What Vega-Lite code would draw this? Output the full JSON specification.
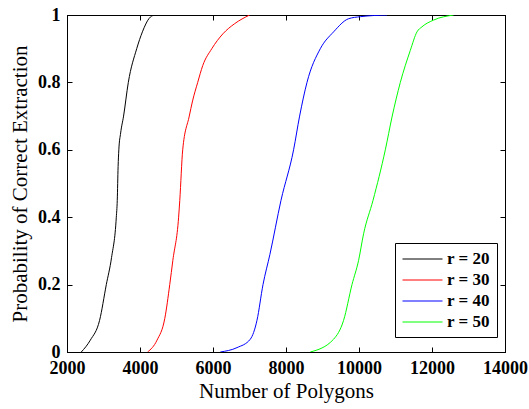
{
  "$schema": "https://vega.github.io/schema/vega-lite/v6.json",
  "width": 438,
  "height": 337,
  "autosize": "none",
  "padding": {"left": 67, "top": 15, "right": 24, "bottom": 57},
  "background": "white",
  "config": {
    "view": {"stroke": "black", "strokeWidth": 1},
    "font": "Liberation Serif"
  },
  "data": {
    "values": [
      {"n": 2392, "p": 0, "r": "r = 20"},
      {"n": 2638, "p": 0.035, "r": "r = 20"},
      {"n": 2893, "p": 0.094, "r": "r = 20"},
      {"n": 3077, "p": 0.2, "r": "r = 20"},
      {"n": 3220, "p": 0.28, "r": "r = 20"},
      {"n": 3351, "p": 0.4, "r": "r = 20"},
      {"n": 3377, "p": 0.45, "r": "r = 20"},
      {"n": 3400, "p": 0.55, "r": "r = 20"},
      {"n": 3420, "p": 0.6, "r": "r = 20"},
      {"n": 3470, "p": 0.65, "r": "r = 20"},
      {"n": 3550, "p": 0.7, "r": "r = 20"},
      {"n": 3680, "p": 0.8, "r": "r = 20"},
      {"n": 3910, "p": 0.9, "r": "r = 20"},
      {"n": 4066, "p": 0.95, "r": "r = 20"},
      {"n": 4250, "p": 0.99, "r": "r = 20"},
      {"n": 4386, "p": 1, "r": "r = 20"},
      {"n": 4208, "p": 0, "r": "r = 30"},
      {"n": 4466, "p": 0.035, "r": "r = 30"},
      {"n": 4680, "p": 0.1, "r": "r = 30"},
      {"n": 4815, "p": 0.2, "r": "r = 30"},
      {"n": 4900, "p": 0.272, "r": "r = 30"},
      {"n": 5058, "p": 0.4, "r": "r = 30"},
      {"n": 5090, "p": 0.45, "r": "r = 30"},
      {"n": 5170, "p": 0.6, "r": "r = 30"},
      {"n": 5350, "p": 0.7, "r": "r = 30"},
      {"n": 5440, "p": 0.745, "r": "r = 30"},
      {"n": 5581, "p": 0.8, "r": "r = 30"},
      {"n": 5719, "p": 0.85, "r": "r = 30"},
      {"n": 5967, "p": 0.9, "r": "r = 30"},
      {"n": 6270, "p": 0.944, "r": "r = 30"},
      {"n": 6590, "p": 0.974, "r": "r = 30"},
      {"n": 7003, "p": 1, "r": "r = 30"},
      {"n": 6200, "p": 0, "r": "r = 40"},
      {"n": 6658, "p": 0.013, "r": "r = 40"},
      {"n": 7022, "p": 0.038, "r": "r = 40"},
      {"n": 7205, "p": 0.094, "r": "r = 40"},
      {"n": 7370, "p": 0.2, "r": "r = 40"},
      {"n": 7560, "p": 0.29, "r": "r = 40"},
      {"n": 7863, "p": 0.45, "r": "r = 40"},
      {"n": 8208, "p": 0.6, "r": "r = 40"},
      {"n": 8373, "p": 0.7, "r": "r = 40"},
      {"n": 8575, "p": 0.8, "r": "r = 40"},
      {"n": 8940, "p": 0.9, "r": "r = 40"},
      {"n": 9304, "p": 0.95, "r": "r = 40"},
      {"n": 9715, "p": 0.989, "r": "r = 40"},
      {"n": 10036, "p": 0.995, "r": "r = 40"},
      {"n": 10767, "p": 1, "r": "r = 40"},
      {"n": 8666, "p": 0, "r": "r = 50"},
      {"n": 9304, "p": 0.038, "r": "r = 50"},
      {"n": 9578, "p": 0.094, "r": "r = 50"},
      {"n": 9808, "p": 0.2, "r": "r = 50"},
      {"n": 9989, "p": 0.272, "r": "r = 50"},
      {"n": 10126, "p": 0.351, "r": "r = 50"},
      {"n": 10384, "p": 0.45, "r": "r = 50"},
      {"n": 10721, "p": 0.6, "r": "r = 50"},
      {"n": 10904, "p": 0.697, "r": "r = 50"},
      {"n": 11132, "p": 0.8, "r": "r = 50"},
      {"n": 11406, "p": 0.895, "r": "r = 50"},
      {"n": 11589, "p": 0.95, "r": "r = 50"},
      {"n": 11726, "p": 0.965, "r": "r = 50"},
      {"n": 12045, "p": 0.985, "r": "r = 50"},
      {"n": 12593, "p": 1, "r": "r = 50"}
    ]
  },
  "layer": [
    {
      "mark": {"type": "line", "strokeWidth": 1, "interpolate": "monotone", "clip": true},
      "encoding": {
        "x": {
          "field": "n", "type": "quantitative",
          "scale": {"domain": [2000, 14000], "nice": false, "zero": false},
          "axis": {
            "values": [2000, 4000, 6000, 8000, 10000, 12000, 14000],
            "format": "d",
            "grid": false,
            "domainColor": "black",
            "tickColor": "black",
            "tickSize": -5,
            "labelPadding": 12,
            "labelFont": "Liberation Serif",
            "labelFontSize": 18,
            "labelFontWeight": "bold",
            "labelColor": "black",
            "labelFlush": false,
            "title": "Number of Polygons",
            "titleFont": "Liberation Serif",
            "titleFontSize": 21,
            "titleFontWeight": "normal",
            "titleColor": "black",
            "titlePadding": 3
          }
        },
        "y": {
          "field": "p", "type": "quantitative",
          "scale": {"domain": [0, 1], "nice": false},
          "axis": {
            "values": [0, 0.2, 0.4, 0.6, 0.8, 1],
            "labelExpr": "datum.value + ''",
            "grid": false,
            "domainColor": "black",
            "tickColor": "black",
            "tickSize": -5,
            "labelPadding": 12,
            "labelFont": "Liberation Serif",
            "labelFontSize": 18,
            "labelFontWeight": "bold",
            "labelColor": "black",
            "labelFlush": false,
            "title": "Probability of Correct Extraction",
            "titleFont": "Liberation Serif",
            "titleFontSize": 21,
            "titleFontWeight": "normal",
            "titleColor": "black",
            "titlePadding": 7
          }
        },
        "color": {
          "field": "r", "type": "nominal",
          "scale": {"domain": ["r = 20", "r = 30", "r = 40", "r = 50"], "range": ["#000000", "#ff0000", "#0000ff", "#00ff00"]},
          "legend": {
            "title": null,
            "orient": "none",
            "legendX": 328,
            "legendY": 228,
            "symbolType": "M-1,0.0625H4",
            "symbolSize": 256,
            "symbolStrokeWidth": 1,
            "labelFont": "Liberation Serif",
            "labelFontSize": 17,
            "labelFontWeight": "bold",
            "labelColor": "black",
            "labelOffset": 28,
            "rowPadding": 3,
            "padding": 7,
            "strokeColor": "black",
            "fillColor": "white"
          }
        }
      }
    },
    {
      "mark": {"type": "point", "opacity": 0},
      "encoding": {
        "x": {
          "field": "n", "type": "quantitative",
          "axis": {"orient": "top", "values": [2000, 4000, 6000, 8000, 10000, 12000, 14000], "labels": false, "title": null, "grid": false, "domainColor": "black", "tickColor": "black", "tickSize": -5}
        },
        "y": {
          "field": "p", "type": "quantitative",
          "axis": {"orient": "right", "values": [0, 0.2, 0.4, 0.6, 0.8, 1], "labels": false, "title": null, "grid": false, "domainColor": "black", "tickColor": "black", "tickSize": -5}
        }
      }
    }
  ],
  "resolve": {"axis": {"x": "independent", "y": "independent"}}
}
